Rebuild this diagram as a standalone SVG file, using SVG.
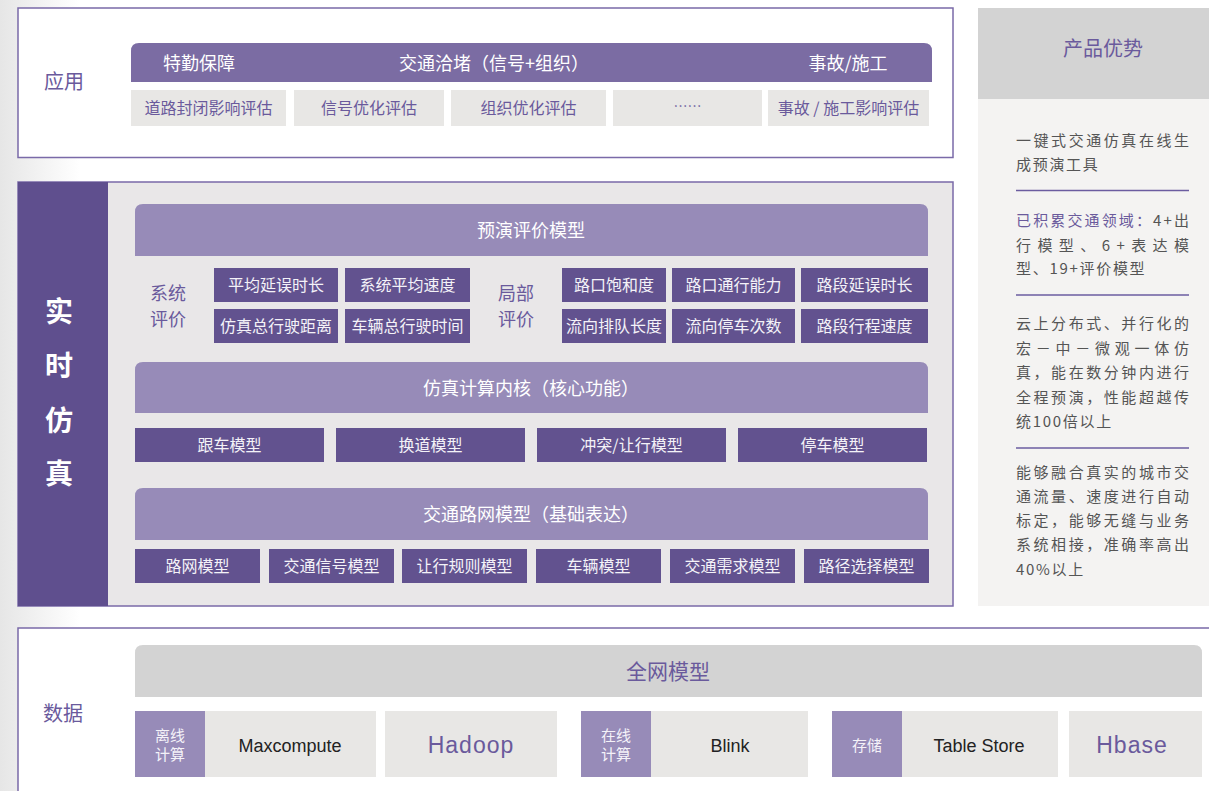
<svg xmlns="http://www.w3.org/2000/svg" width="1209" height="791" viewBox="0 0 1209 791">
<defs>
<linearGradient id="bgL" x1="0" y1="0" x2="1" y2="0">
<stop offset="0" stop-color="#e6e6e6"/>
<stop offset="1" stop-color="#ffffff"/>
</linearGradient>
<style>
text{font-family:"Noto Sans CJK SC","Noto Sans",sans-serif;dominant-baseline:central}
.frame{stroke:#7a6aa8;stroke-width:1.5}
.hdrApp{fill:#7b6ca3}
.gbox{fill:#e8e7e5}
.dbox{fill:#62528f}
.lhdr{fill:#978bb8}
.lbl{fill:#978bb8}
.wt{fill:#ffffff;text-anchor:middle}
.wt16{fill:#f4f2f8;text-anchor:middle;font-size:16px}
.pt{fill:#6a5a9c;text-anchor:middle}
.rt{fill:#555555;font-size:15px}
.sep{stroke:#6b5ca0;stroke-width:1.5}
.lat{font-family:"Liberation Sans",Arial,sans-serif;text-anchor:middle}
</style>
</defs>
<rect x="0" y="0" width="1209" height="791" fill="#ffffff"/>
<rect x="0" y="0" width="80" height="791" fill="url(#bgL)"/>

<g id="app">
<rect x="18" y="8" width="935" height="149.5" fill="#ffffff" class="frame"/>
<text x="64" y="80" class="pt" font-size="20">应用</text>
<path d="M131,82 V51 Q131,43 139,43 H924 Q932,43 932,51 V82 Z" class="hdrApp"/>
<text x="199" y="62" class="wt" font-size="18">特勤保障</text>
<text x="494" y="62" class="wt" font-size="18" textLength="190" lengthAdjust="spacing">交通洽堵（信号+组织）</text>
<text x="848" y="62" class="wt" font-size="18">事故/施工</text>
<g id="app-1"><rect x="131" y="90" width="155" height="36" class="gbox"/><text x="208.5" y="107" class="pt" font-size="16">道路封闭影响评估</text></g>
<g id="app-2"><rect x="294" y="90" width="150" height="36" class="gbox"/><text x="369" y="107" class="pt" font-size="16">信号优化评估</text></g>
<g id="app-3"><rect x="451" y="90" width="155" height="36" class="gbox"/><text x="528.5" y="107" class="pt" font-size="16">组织优化评估</text></g>
<g id="app-4"><rect x="613" y="90" width="149" height="36" class="gbox"/><text x="687.5" y="105" class="pt" font-size="14">……</text></g>
<g id="app-5"><rect x="768" y="90" width="161" height="36" class="gbox"/><text x="848.5" y="107" class="pt" font-size="16">事故 / 施工影响评估</text></g>
</g>

<g id="advantages">
<rect x="978" y="8" width="231" height="91" fill="#d3d3d3"/>
<rect x="978" y="99" width="231" height="507" fill="#f4f3f2"/>
<text x="1103" y="47" class="pt" font-size="20">产品优势</text>
<text x="1016" y="139" class="rt" textLength="173" lengthAdjust="spacing">一键式交通仿真在线生</text>
<text x="1016" y="163" class="rt" letter-spacing="1.7">成预演工具</text>
<line x1="1016" y1="190.5" x2="1189" y2="190.5" class="sep"/>
<text x="1016" y="219" class="rt" textLength="173" lengthAdjust="spacing"><tspan fill="#6a5a9c">已积累交通领域：</tspan>4+出</text>
<text x="1016" y="244" class="rt" textLength="173" lengthAdjust="spacing">行模型、6+表达模</text>
<text x="1016" y="267" class="rt" letter-spacing="1.7">型、19+评价模型</text>
<line x1="1016" y1="295" x2="1189" y2="295" class="sep"/>
<text x="1016" y="322" class="rt" textLength="173" lengthAdjust="spacing">云上分布式、并行化的</text>
<text x="1016" y="347" class="rt" textLength="173" lengthAdjust="spacing">宏－中－微观一体仿</text>
<text x="1016" y="371" class="rt" textLength="173" lengthAdjust="spacing">真，能在数分钟内进行</text>
<text x="1016" y="396" class="rt" textLength="173" lengthAdjust="spacing">全程预演，性能超越传</text>
<text x="1016" y="420" class="rt" letter-spacing="1.7">统100倍以上</text>
<line x1="1016" y1="448" x2="1189" y2="448" class="sep"/>
<text x="1016" y="471" class="rt" textLength="173" lengthAdjust="spacing">能够融合真实的城市交</text>
<text x="1016" y="495" class="rt" textLength="173" lengthAdjust="spacing">通流量、速度进行自动</text>
<text x="1016" y="519" class="rt" textLength="173" lengthAdjust="spacing">标定，能够无缝与业务</text>
<text x="1016" y="543" class="rt" textLength="173" lengthAdjust="spacing">系统相接，准确率高出</text>
<text x="1016" y="568" class="rt" letter-spacing="1.7">40%以上</text>
</g>

<g id="sim">
<rect x="18" y="182" width="935" height="424" fill="#e9e7e8" class="frame"/>
<rect x="18" y="182" width="90" height="424" fill="#5f4f8e"/>
<text x="59" y="310" class="wt" font-size="28" font-weight="bold">实</text>
<text x="59" y="364" class="wt" font-size="28" font-weight="bold">时</text>
<text x="59" y="419" class="wt" font-size="28" font-weight="bold">仿</text>
<text x="59" y="472" class="wt" font-size="28" font-weight="bold">真</text>

<g id="eval">
<path d="M135,256 V212 Q135,204 143,204 H920 Q928,204 928,212 V256 Z" class="lhdr"/>
<text x="531" y="229" class="wt" font-size="18">预演评价模型</text>
<text x="168" y="292" class="pt" font-size="18">系统</text>
<text x="168" y="318" class="pt" font-size="18">评价</text>
<text x="516" y="292" class="pt" font-size="18">局部</text>
<text x="516" y="318" class="pt" font-size="18">评价</text>
<g id="e1"><rect x="214" y="268" width="124" height="34" class="dbox"/><text x="276" y="284" class="wt16">平均延误时长</text></g>
<g id="e2"><rect x="345" y="268" width="125" height="34" class="dbox"/><text x="407.5" y="284" class="wt16">系统平均速度</text></g>
<g id="e3"><rect x="214" y="309" width="124" height="34" class="dbox"/><text x="276" y="325" class="wt16">仿真总行驶距离</text></g>
<g id="e4"><rect x="345" y="309" width="125" height="34" class="dbox"/><text x="407.5" y="325" class="wt16">车辆总行驶时间</text></g>
<g id="e5"><rect x="562" y="268" width="104" height="34" class="dbox"/><text x="614" y="284" class="wt16">路口饱和度</text></g>
<g id="e6"><rect x="672" y="268" width="123" height="34" class="dbox"/><text x="733.5" y="284" class="wt16">路口通行能力</text></g>
<g id="e7"><rect x="801" y="268" width="127" height="34" class="dbox"/><text x="864.5" y="284" class="wt16">路段延误时长</text></g>
<g id="e8"><rect x="562" y="309" width="104" height="34" class="dbox"/><text x="614" y="325" class="wt16">流向排队长度</text></g>
<g id="e9"><rect x="672" y="309" width="123" height="34" class="dbox"/><text x="733.5" y="325" class="wt16">流向停车次数</text></g>
<g id="e10"><rect x="801" y="309" width="127" height="34" class="dbox"/><text x="864.5" y="325" class="wt16">路段行程速度</text></g>
</g>

<g id="kernel">
<path d="M135,413 V370 Q135,362 143,362 H920 Q928,362 928,370 V413 Z" class="lhdr"/>
<text x="531" y="387" class="wt" font-size="18" textLength="216" lengthAdjust="spacing">仿真计算内核（核心功能）</text>
<g id="k1"><rect x="135" y="428" width="189" height="34" class="dbox"/><text x="229.5" y="444" class="wt16">跟车模型</text></g>
<g id="k2"><rect x="336" y="428" width="189" height="34" class="dbox"/><text x="430.5" y="444" class="wt16">换道模型</text></g>
<g id="k3"><rect x="537" y="428" width="189" height="34" class="dbox"/><text x="631.5" y="444" class="wt16">冲突/让行模型</text></g>
<g id="k4"><rect x="738" y="428" width="189" height="34" class="dbox"/><text x="832.5" y="444" class="wt16">停车模型</text></g>
</g>

<g id="network">
<path d="M135,540 V496 Q135,488 143,488 H920 Q928,488 928,496 V540 Z" class="lhdr"/>
<text x="531" y="513" class="wt" font-size="18" textLength="216" lengthAdjust="spacing">交通路网模型（基础表达）</text>
<g id="n1"><rect x="135" y="549" width="125" height="34" class="dbox"/><text x="197.5" y="565" class="wt16">路网模型</text></g>
<g id="n2"><rect x="269" y="549" width="125" height="34" class="dbox"/><text x="331.5" y="565" class="wt16">交通信号模型</text></g>
<g id="n3"><rect x="402" y="549" width="125" height="34" class="dbox"/><text x="464.5" y="565" class="wt16">让行规则模型</text></g>
<g id="n4"><rect x="536" y="549" width="125" height="34" class="dbox"/><text x="598.5" y="565" class="wt16">车辆模型</text></g>
<g id="n5"><rect x="670" y="549" width="125" height="34" class="dbox"/><text x="732.5" y="565" class="wt16">交通需求模型</text></g>
<g id="n6"><rect x="804" y="549" width="125" height="34" class="dbox"/><text x="866.5" y="565" class="wt16">路径选择模型</text></g>
</g>
</g>

<g id="data">
<rect x="18" y="628" width="1220" height="200" fill="#ffffff" class="frame"/>
<text x="63" y="712" class="pt" font-size="20">数据</text>
<path d="M135,697 V653 Q135,645 143,645 H1194 Q1202,645 1202,653 V697 Z" fill="#d3d3d3"/>
<text x="668" y="670" class="pt" font-size="21">全网模型</text>
<g id="d1">
<rect x="135" y="711" width="70" height="66" class="lbl"/>
<text x="170" y="734" class="wt16" style="font-size:15px">离线</text>
<text x="170" y="753" class="wt16" style="font-size:15px">计算</text>
<rect x="205" y="711" width="171" height="66" class="gbox"/>
<text x="290" y="746" class="lat" font-size="18" fill="#222222">Maxcompute</text>
</g>
<g id="d2"><rect x="385" y="711" width="172" height="66" class="gbox"/><text x="471" y="745" class="lat" font-size="23" letter-spacing="1" fill="#6a5a9c">Hadoop</text></g>
<g id="d3">
<rect x="581" y="711" width="70" height="66" class="lbl"/>
<text x="616" y="734" class="wt16" style="font-size:15px">在线</text>
<text x="616" y="753" class="wt16" style="font-size:15px">计算</text>
<rect x="651" y="711" width="157" height="66" class="gbox"/>
<text x="730" y="746" class="lat" font-size="18" fill="#222222">Blink</text>
</g>
<g id="d4">
<rect x="832" y="711" width="70" height="66" class="lbl"/>
<text x="867" y="744" class="wt16" style="font-size:15px">存储</text>
<rect x="902" y="711" width="156" height="66" class="gbox"/>
<text x="979" y="746" class="lat" font-size="18" fill="#222222">Table Store</text>
</g>
<g id="d5"><rect x="1069" y="711" width="133" height="66" class="gbox"/><text x="1132" y="745" class="lat" font-size="23" letter-spacing="1" fill="#6a5a9c">Hbase</text></g>
</g>

<g id="connectors"/>
</svg>
